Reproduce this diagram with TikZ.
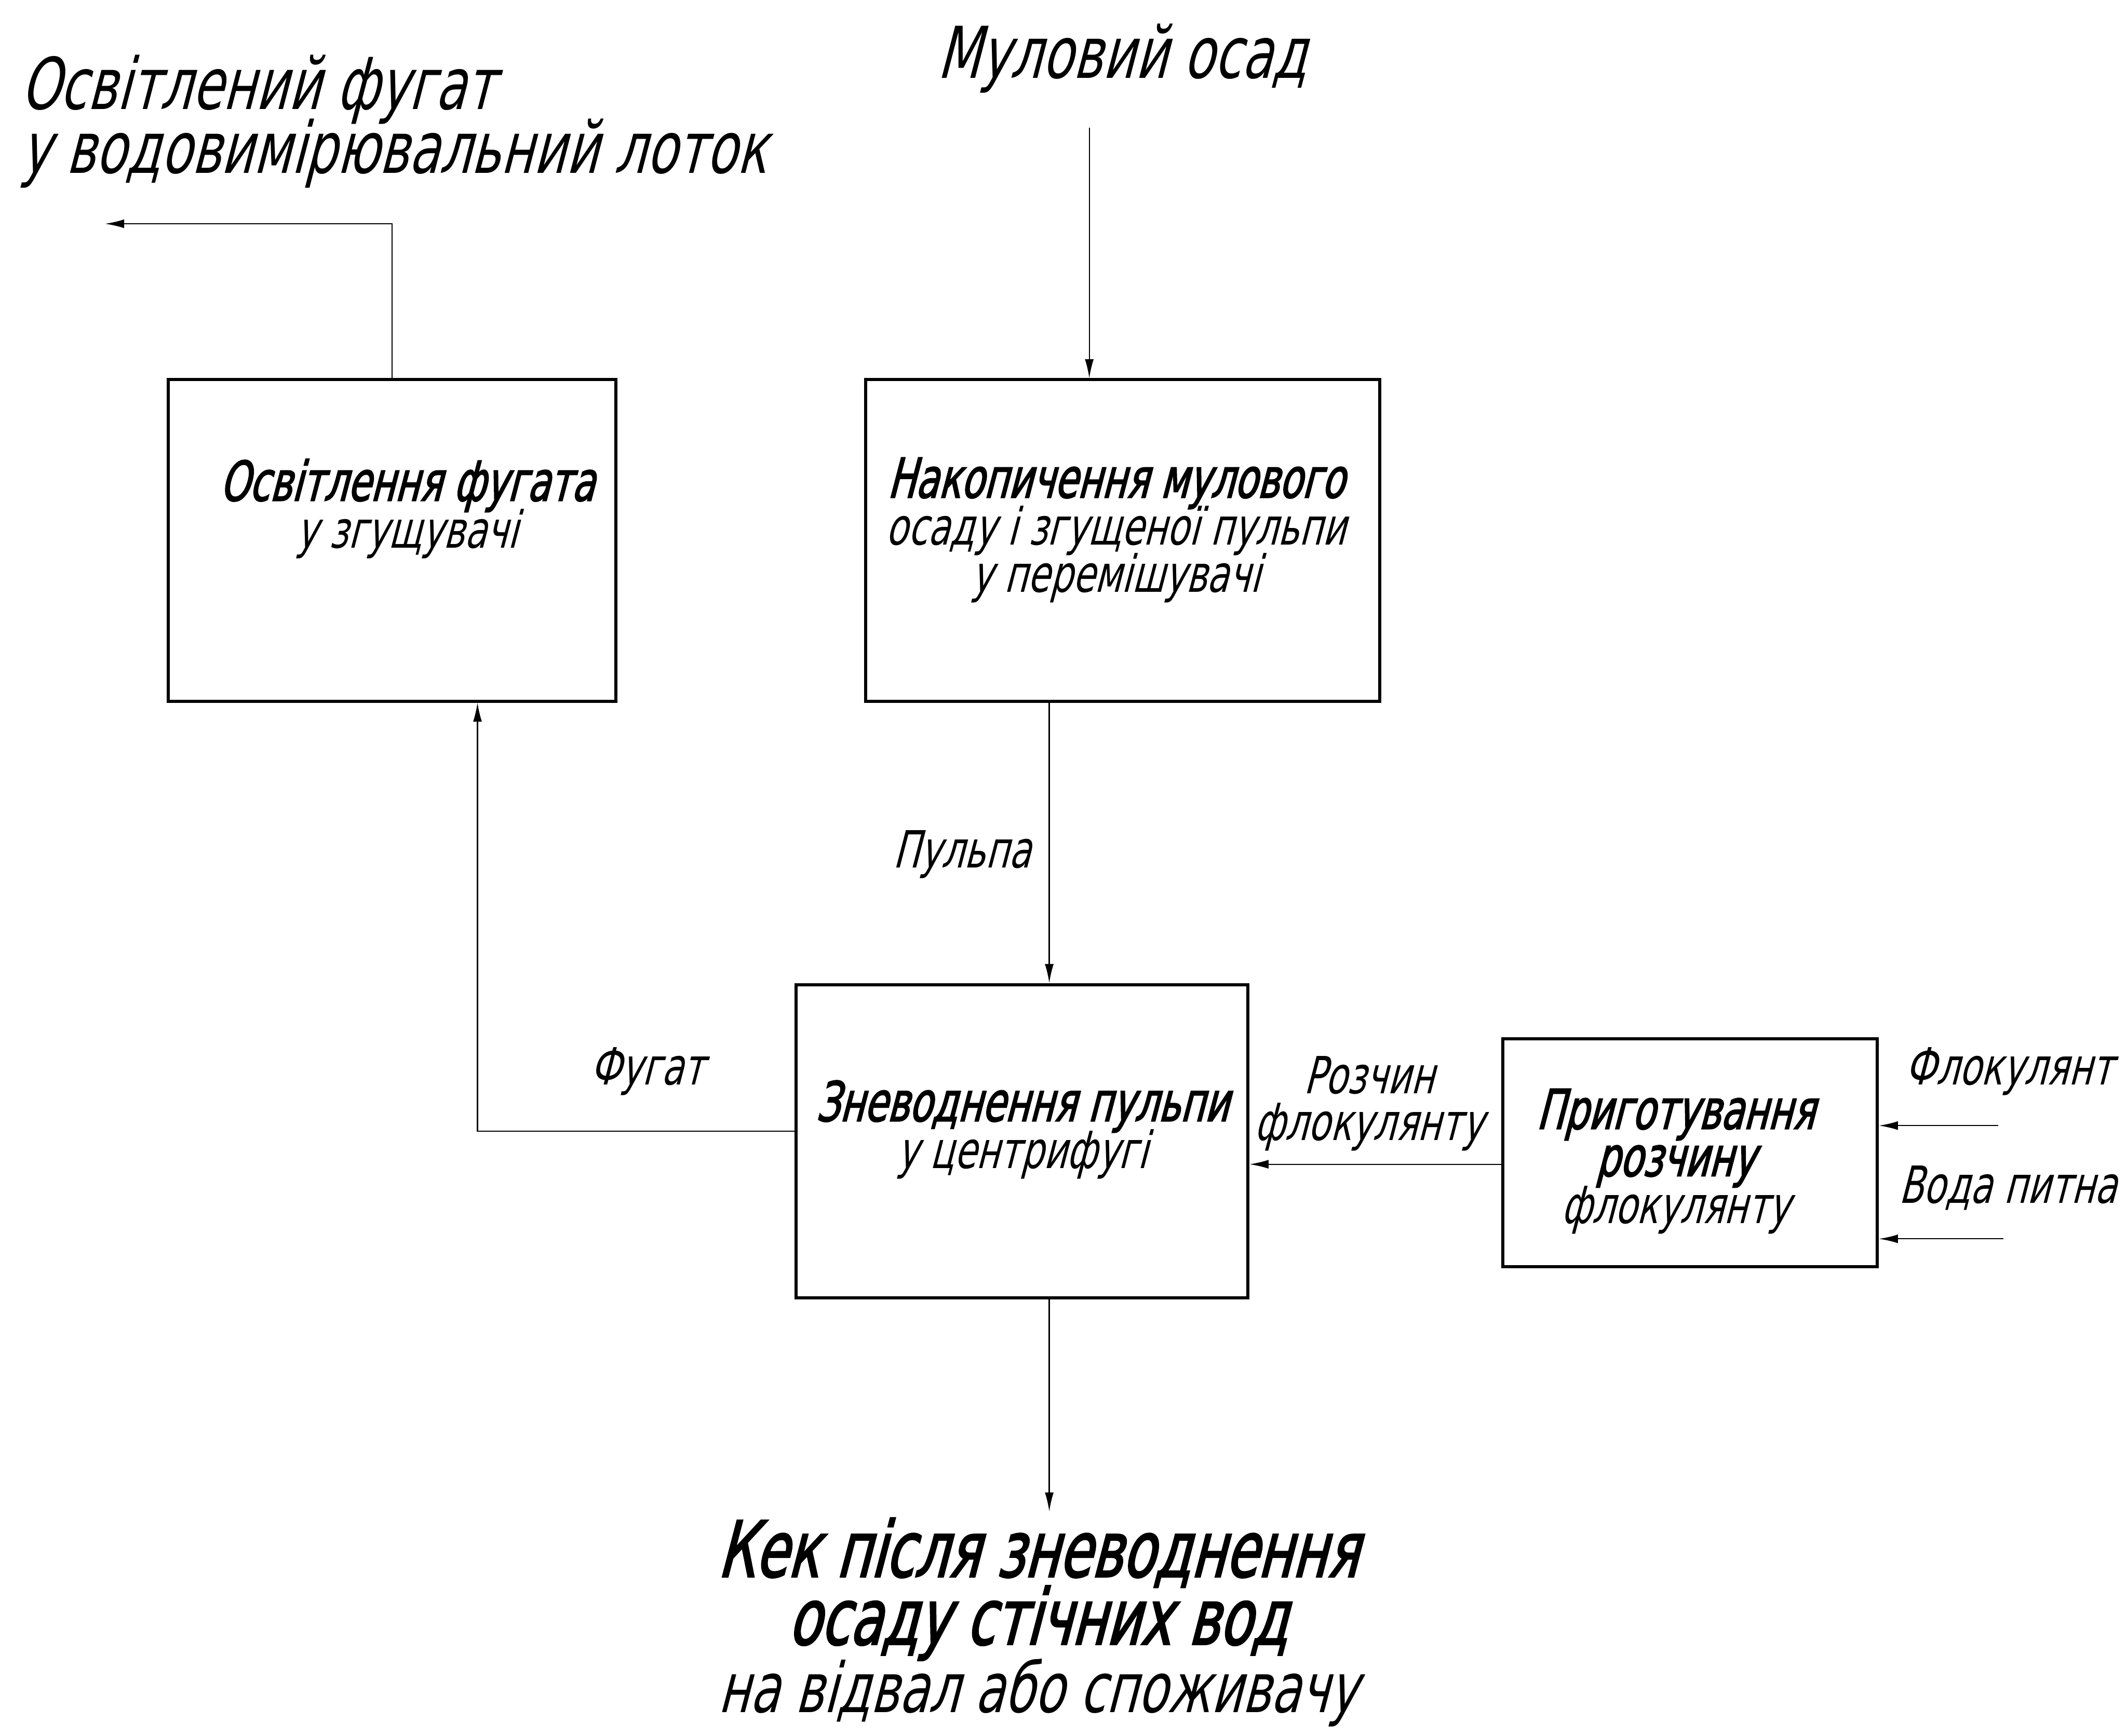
\documentclass[tikz,border=0pt]{standalone}
\usepackage{fontspec}
\setmainfont{DejaVu Sans}[FakeStretch=0.7, FakeSlant=0.26]
\newfontfamily\gostbold{DejaVu Sans}[FakeStretch=0.68, FakeSlant=0.26, FakeBold=2]
\usetikzlibrary{arrows.meta}
\newcommand{\heavy}[1]{{\gostbold #1}}
\newcommand{\tightlines}{\lineskiplimit=-50pt\relax}

\begin{document}
\begin{tikzpicture}[line width=0.5pt, >={Latex[length=2.8mm,width=1.3mm]},
        block/.style={draw, line width=1.3pt, inner sep=0pt},
        txt/.style={font={\fontsize{21.5}{19.8}\selectfont\tightlines}, align=center, inner sep=0pt, anchor=base},
        big/.style={font={\fontsize{30}{26.6}\selectfont\tightlines}, inner sep=0pt, anchor=base}]
    \useasboundingbox (0,0) rectangle (31.36,-25.6);

    % blocks
    \node[block, minimum width=6.6cm, minimum height=4.74cm] (clar) at (5.78,-7.97) {};
    \node[block, minimum width=7.58cm, minimum height=4.74cm] (accum) at (16.55,-7.97) {};
    \node[block, minimum width=6.66cm, minimum height=4.62cm] (dewater) at (15.07,-16.83) {};
    \node[block, minimum width=5.52cm, minimum height=3.36cm] (prep) at (24.92,-17.0) {};

    \node[txt] (clartext) at (6.0,-8.08) {\heavy{\fontsize{23}{19.8}\selectfont Освітлення фугата}\\у згущувачі};
    \node[txt] (accumtext) at (16.45,-8.73) {\heavy{\fontsize{23}{19.8}\selectfont Накопичення мулового}\\осаду і згущеної пульпи\\у перемішувачі};
    \node[txt] (dewatertext) at (15.07,-17.23) {\heavy{\fontsize{23}{19.8}\selectfont Зневоднення пульпи}\\у центрифугі};
    \node[txt] (preptext) at (24.7,-18.04) {\heavy{\fontsize{23}{19.8}\selectfont Приготування}\\\heavy{\fontsize{23}{19.8}\selectfont розчину}\\флокулянту};

    % inputs and outputs
    \node[big, anchor=base west, align=left] (outtext) at (0.29,-2.55) {Освітлений фугат\\у водовимірювальний лоток};
    \node[big] (sludgetext) at (16.54,-1.15) {Муловий осад};
    \node[big, align=center, font={\fontsize{29}{28.4}\selectfont\tightlines}] (caketext) at (15.3,-25.25)
        {\heavy{\fontsize{32.5}{28.4}\selectfont Кек після зневоднення}\\\heavy{\fontsize{32.5}{28.4}\selectfont осаду стічних вод}\\на відвал або споживачу};

    \coordinate (outflow) at (1.55,-3.30);
    \coordinate (sludge) at (16.06,-1.88);
    \coordinate (pulpx) at (15.47,0);
    \coordinate (fug) at (7.04,-16.68);
    \coordinate (sol) at (0,-17.17);
    \coordinate (floc) at (29.46,-16.6);
    \coordinate (water) at (29.54,-18.27);
    \coordinate (cake) at (15.47,-22.29);

    \draw[->] (clar.north) |- (outflow);
    \draw[->] (sludge) -- (sludge |- accum.north);
    \draw[->] (accum.south -| pulpx) -- (dewater.north -| pulpx);
    \draw[->] (fug -| dewater.west) -| (clar.south -| fug);
    \draw[->] (prep.west |- sol) -- (dewater.east |- sol);
    \draw[->] (floc) -- (floc -| prep.east);
    \draw[->] (water) -- (water -| prep.east);
    \draw[->] (dewater.south -| pulpx) -- (cake);

    % labels
    \node[txt] (pulplabel) at (14.18,-12.8) {Пульпа};
    \node[txt] (fuglabel) at (9.54,-16.0) {Фугат};
    \node[txt] (sollabel) at (20.18,-16.82) {Розчин\\флокулянту};
    \node[txt] (floclabel) at (29.62,-16.0) {Флокулянт};
    \node[txt] (waterlabel) at (29.6,-17.74) {Вода питна};
\end{tikzpicture}
\end{document}
